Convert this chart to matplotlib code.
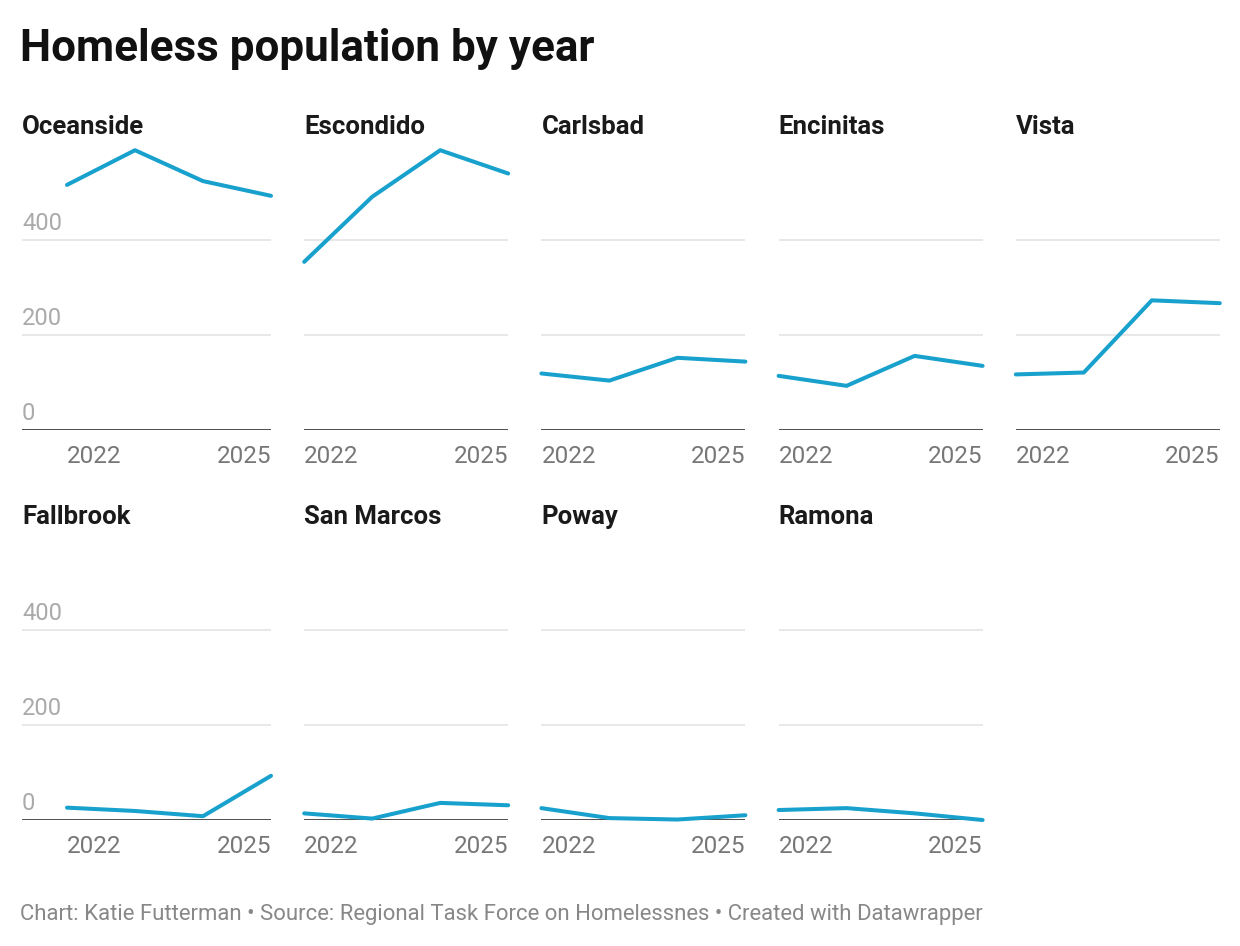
"""Small multiples: homeless population by year, North County cities
"""
import matplotlib
matplotlib.use("Agg")
import matplotlib.pyplot as plt

plt.rcParams["font.family"] = ["Roboto", "DejaVu Sans"]

W, H = 1240, 946

years = [2022, 2023, 2024, 2025]
year_ticks = [2022, 2025]

cities = ["Oceanside", "Escondido", "Carlsbad", "Encinitas", "Vista",
          "Fallbrook", "San Marcos", "Poway", "Ramona"]

oceanside = [516, 589, 524, 493]
escondido = [354, 491, 589, 540]
carlsbad = [119, 104, 152, 144]
encinitas = [114, 93, 156, 135]
vista = [117, 121, 273, 267]
fallbrook = [26, 19, 8, 93]
san_marcos = [14, 3, 36, 31]
poway = [25, 4, 1, 10]
ramona = [21, 25, 14, 0]

values = [oceanside, escondido, carlsbad, encinitas, vista,
          fallbrook, san_marcos, poway, ramona]

y_grid = [200, 400]
y_labels = [0, 200, 400]
y_max = 600

LINE = "#18a1cd"
GRID = "#e6e6e6"


def px_box(left, top, right, bottom):
    return [left / W, 1 - bottom / H, (right - left) / W, (bottom - top) / H]


def main() -> None:
    fig = plt.figure(figsize=(W / 100, H / 100), dpi=100)

    fig.text(20 / W, 1 - 61 / H, "Homeless population by year",
             fontsize=31.7, fontweight="bold", color="#111111", va="baseline")

    col_step = 237.2
    data_w = 204
    row_base = [430, 820]
    px_per_unit = 95 / 200

    for i, (city, vals) in enumerate(zip(cities, values)):
        row, col = divmod(i, 5)
        data_left = 67 + col_step * col
        data_right = data_left + data_w
        ax_left = 22 if col == 0 else data_left
        base = row_base[row]
        top = base - y_max * px_per_unit

        ax = fig.add_axes(px_box(ax_left, top, data_right, base))
        px_per_year = data_w / (years[-1] - years[0])
        ax.set_xlim(years[0] - (data_left - ax_left) / px_per_year, years[-1])
        ax.set_ylim(0, y_max)

        for g in y_grid:
            ax.axhline(g, color=GRID, lw=1.3, zorder=1)
        ax.axhline(0, color="#1a1a1a", lw=1.8, zorder=2)

        ax.plot(years, vals, color=LINE, lw=2.9, zorder=3, clip_on=False,
                solid_capstyle="round", solid_joinstyle="round")

        for s in ax.spines.values():
            s.set_visible(False)
        ax.set_yticks([])
        ax.set_xticks(year_ticks)
        ax.set_xticklabels([str(y) for y in year_ticks])
        ax.tick_params(axis="x", length=0, pad=10.7, labelsize=17.5,
                       labelcolor="#777777")
        labels = ax.get_xticklabels()
        labels[0].set_ha("left")
        labels[-1].set_ha("right")

        if col == 0:
            for v in y_labels:
                ax.annotate(str(v), xy=(0, v), xycoords=("axes fraction", "data"),
                            xytext=(0, 7.2), textcoords="offset points",
                            va="baseline", ha="left", fontsize=17,
                            color="#aaaaaa")

        ax.annotate(city, xy=(0, 1), xycoords="axes fraction",
                    xytext=(0, 7.6), textcoords="offset points",
                    va="baseline", ha="left", fontsize=18.5,
                    fontweight="bold", color="#1a1a1a")

    fig.text(20 / W, 1 - 920 / H,
             "Chart: Katie Futterman \u2022 Source: Regional Task Force on "
             "Homelessnes \u2022 Created with Datawrapper",
             fontsize=15.9, color="#888888", va="baseline")

    fig.savefig("out.png", dpi=100, facecolor="white")
    plt.close(fig)


if __name__ == "__main__":
    main()
